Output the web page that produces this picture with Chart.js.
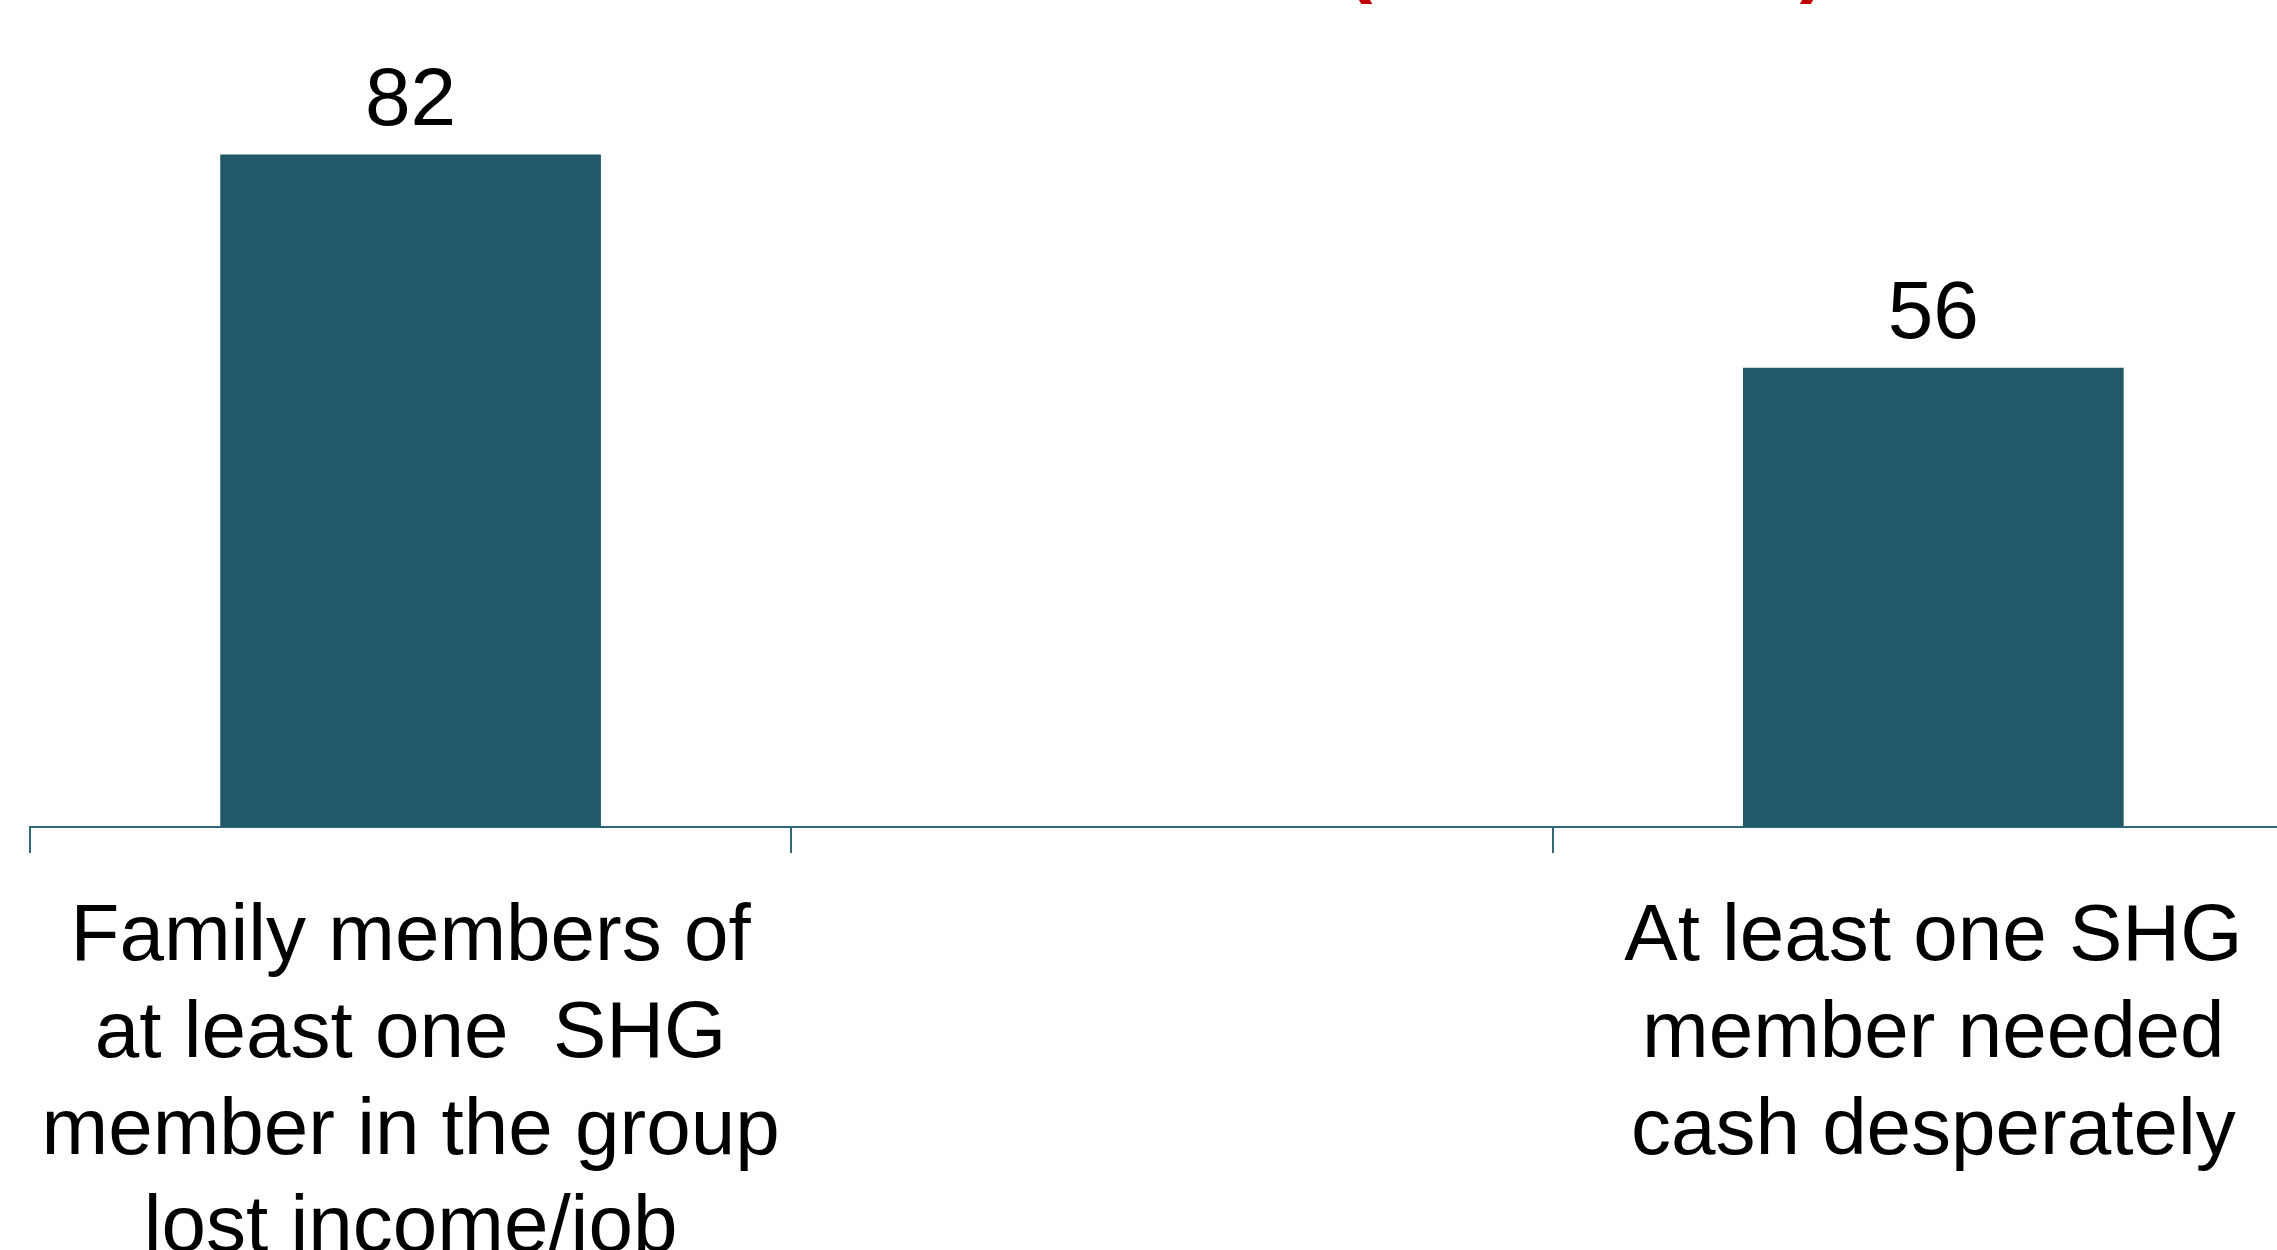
<!DOCTYPE html>
<html>
<head>
<meta charset="utf-8">
<script src="https://cdn.jsdelivr.net/npm/chart.js@4/dist/chart.umd.min.js"></script>
<style>
  html, body { margin: 0; padding: 0; background: #ffffff; overflow: hidden; }
  #wrap { position: absolute; left: 0; top: 0; width: 2330px; height: 1250px; }
</style>
</head>
<body>
<div id="wrap"><canvas id="chart"></canvas></div>
<script>
// Categories (multi-line labels) and percentage values
const categories = [
  ['Family members of', 'at least one  SHG', 'member in the group', 'lost income/job'],
  [''],
  ['At least one SHG', 'member needed', 'cash desperately']
];
const values = [82, null, 56];

const barColor = '#225968';
const axisColor = '#2f6776';
const fontFamily = '"Liberation Sans", Arial, Helvetica, sans-serif';

// Writes each bar's value above it
const valueLabels = {
  id: 'valueLabels',
  afterDatasetsDraw(chart) {
    const ctx = chart.ctx;
    const meta = chart.getDatasetMeta(0);
    ctx.save();
    ctx.fillStyle = '#000000';
    ctx.font = '82px ' + fontFamily;
    ctx.textAlign = 'center';
    ctx.textBaseline = 'alphabetic';
    meta.data.forEach((bar, i) => {
      const v = chart.data.datasets[0].data[i];
      if (v === null || v === undefined) return;
      ctx.fillText(String(v), bar.x, bar.y - 30);
    });
    ctx.restore();
  }
};

// Red heading line sitting just above the top edge
const heading = {
  id: 'heading',
  afterDraw(chart) {
    const ctx = chart.ctx;
    ctx.save();
    ctx.fillStyle = '#c00000';
    ctx.font = 'bold 80px ' + fontFamily;
    ctx.textAlign = 'center';
    ctx.textBaseline = 'alphabetic';
    ctx.fillText('(', 1359, -13);
    ctx.fillText(')', 1813, -13);
    ctx.restore();
  }
};

new Chart(document.getElementById('chart'), {
  type: 'bar',
  data: {
    labels: categories,
    datasets: [{
      data: values,
      backgroundColor: barColor,
      borderWidth: 0,
      categoryPercentage: 1.0,
      barPercentage: 0.5
    }]
  },
  options: {
    responsive: true,
    maintainAspectRatio: false,
    animation: false,
    layout: { padding: { left: 27, right: 16, top: 7, bottom: 0 } },
    plugins: {
      legend: { display: false },
      tooltip: { enabled: false },
      title: { display: false }
    },
    scales: {
      x: {
        offset: true,
        grid: {
          display: true,
          offset: true,
          drawOnChartArea: false,
          drawTicks: true,
          tickLength: 26,
          color: axisColor,
          lineWidth: 2
        },
        border: { display: true, color: axisColor, width: 2 },
        ticks: {
          color: '#000000',
          font: { family: fontFamily, size: 80, lineHeight: 1.21 },
          padding: 37,
          maxRotation: 0,
          minRotation: 0,
          autoSkip: false
        },
        afterFit(scale) { scale.height = 423; }
      },
      y: {
        display: false,
        min: 0,
        max: 100
      }
    }
  },
  plugins: [valueLabels, heading]
});
</script>
</body>
</html>
